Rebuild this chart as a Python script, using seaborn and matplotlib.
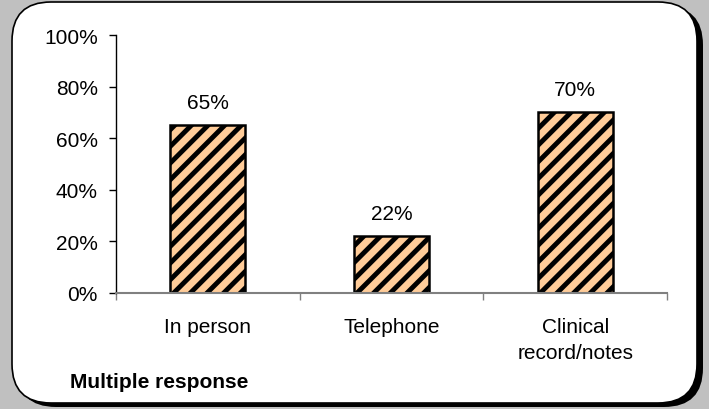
import matplotlib
matplotlib.use("Agg")
import matplotlib.pyplot as plt
from matplotlib.patches import FancyBboxPatch
from matplotlib.ticker import FixedLocator, PercentFormatter
import seaborn as sns
import pandas as pd

# datos
categories = ["In person", "Telephone", "Clinical\nrecord/notes"]
values = [65, 22, 70]
note = "Multiple response"

df = pd.DataFrame({"category": categories, "value": values})

sns.set_style("white")
plt.rcParams['font.family'] = ['Liberation Sans', 'DejaVu Sans']
plt.rcParams['hatch.linewidth'] = 3.5
plt.rcParams['hatch.color'] = 'black'
plt.rcParams['text.color'] = 'black'
plt.rcParams['xtick.color'] = 'black'
plt.rcParams['ytick.color'] = 'black'

fig = plt.figure(figsize=(7.09, 4.10), dpi=100)
fig.patch.set_facecolor('#C0C0C0')

# caja redondeada con sombra
W, H = 709, 410
shadow = FancyBboxPatch((17 / W, 2 / H), 686 / W, 401 / H,
                        boxstyle="round,pad=0,rounding_size=0.055",
                        transform=fig.transFigure, facecolor='black',
                        edgecolor='none', mutation_aspect=W / H, zorder=0)
box = FancyBboxPatch((12 / W, 6 / H), 685 / W, 401 / H,
                     boxstyle="round,pad=0,rounding_size=0.055",
                     transform=fig.transFigure, facecolor='white',
                     edgecolor='black', linewidth=1.2,
                     mutation_aspect=W / H, zorder=1)
fig.patches.extend([shadow, box])

ax = fig.add_axes([116 / W, 1 - 294 / H, 551 / W, 258 / H])
ax.set_facecolor('none')
ax.set_zorder(2)

sns.barplot(data=df, x="category", y="value", ax=ax, width=0.41,
            color='#FFCC99', edgecolor='black', linewidth=1.8,
            saturation=1)
for p in ax.patches:
    p.set_hatch('//')

for i, v in enumerate(values):
    ax.text(i, v + 5, f"{v}%", ha='center', va='bottom', fontsize=15,
            color='black')

ax.set_ylim(0, 100)
ax.set_xlim(-0.5, 2.5)
ax.yaxis.set_major_locator(FixedLocator(range(0, 101, 20)))
ax.yaxis.set_major_formatter(PercentFormatter(decimals=0))
ax.xaxis.set_minor_locator(FixedLocator([-0.5, 0.5, 1.5, 2.5]))
ax.tick_params(axis='x', which='major', length=0, pad=17, labelsize=15,
               labelcolor='black')
ax.tick_params(axis='x', which='minor', bottom=True, length=5,
               direction='out', color='#808080', width=1)
ax.tick_params(axis='y', left=True, length=5, direction='out',
               color='black', width=1, labelsize=15, pad=8,
               labelcolor='black')
ax.set_xticks(range(len(categories)), categories, linespacing=1.5)
ax.set_xlabel("")
ax.set_ylabel("")
for s in ['top', 'right']:
    ax.spines[s].set_visible(False)
ax.spines['left'].set_color('black')
ax.spines['left'].set_linewidth(1)
ax.spines['bottom'].set_color('#808080')
ax.spines['bottom'].set_linewidth(1.5)

fig.text(70 / W, 1 - 383 / H, note, fontsize=15, fontweight='bold',
         va='center', ha='left', zorder=3, color='black')

plt.savefig('out.png', dpi=100, facecolor=fig.get_facecolor())
